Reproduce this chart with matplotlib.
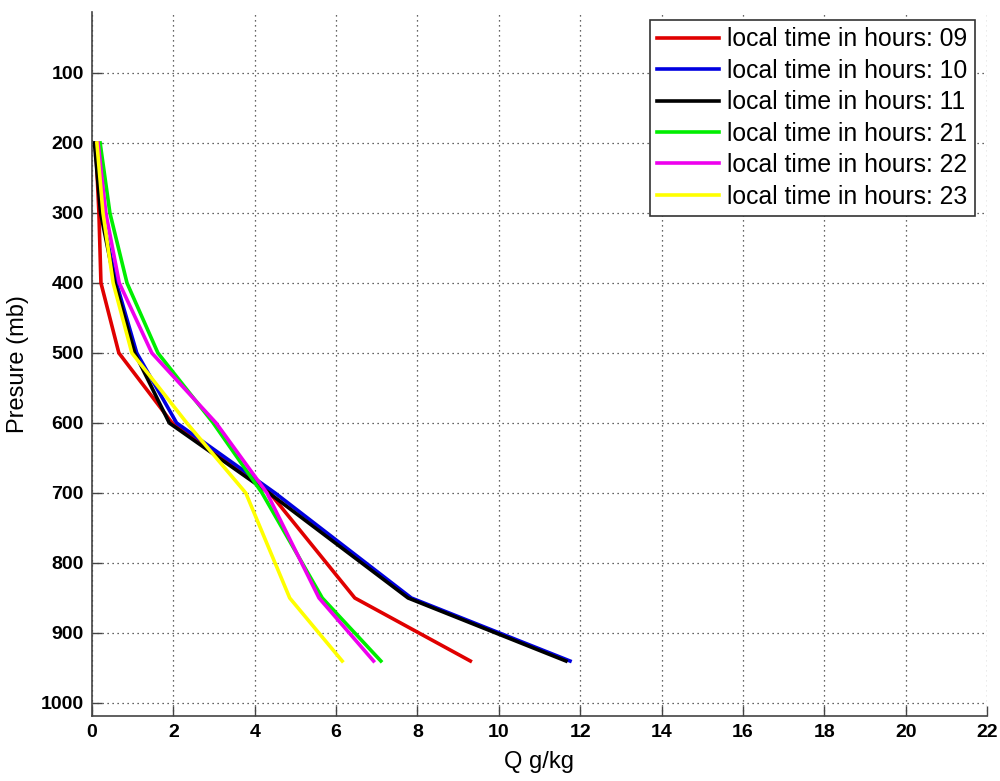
import matplotlib
matplotlib.use("Agg")
import matplotlib.pyplot as plt

plt.rcParams['font.family'] = ['Liberation Sans', 'DejaVu Sans']

# pressure levels (mb) and specific humidity (g/kg) at each local hour
levels = [200, 300, 400, 500, 600, 700, 850, 940]
q_09 = [0.09, 0.17, 0.22, 0.66, 1.97, 4.37, 6.46, 9.30]
q_10 = [0.08, 0.23, 0.60, 1.10, 2.08, 4.50, 7.85, 11.75]
q_11 = [0.06, 0.21, 0.56, 1.05, 1.90, 4.35, 7.77, 11.65]
q_21 = [0.20, 0.44, 0.86, 1.62, 2.98, 4.18, 5.66, 7.10]
q_22 = [0.15, 0.34, 0.67, 1.47, 3.05, 4.30, 5.58, 6.92]
q_23 = [0.12, 0.27, 0.52, 0.98, 2.33, 3.78, 4.86, 6.15]

hours = ['09', '10', '11', '21', '22', '23']
colors = ['#e00000', '#0000e0', 'black', '#00ee00', '#ee00ee', '#ffff00']
series = [q_09, q_10, q_11, q_21, q_22, q_23]

fig = plt.figure(figsize=(10, 7.81), dpi=100)
ax = fig.add_axes([0.092, 0.0832, 0.895, 0.9014])

for q, c, h in zip(series, colors, hours):
    ax.plot(q, levels, color=c, lw=2.6, label='local time in hours: ' + h)

ax.set_xlim(0, 22)
ax.set_ylim(1018.6, 13)
ax.set_xticks(range(0, 23, 2))
ax.set_yticks(range(100, 1001, 100))

ax.grid(True, linestyle=(0, (1, 3)), color='#333333', linewidth=0.9)
ax.tick_params(direction='in', length=7, width=1, color='#444444',
               labelsize=14, pad=6)
for lab in ax.get_xticklabels() + ax.get_yticklabels():
    lab.set_fontweight('bold')

ax.spines['top'].set_visible(False)
ax.spines['right'].set_visible(False)
for s in ('left', 'bottom'):
    ax.spines[s].set_color('#444444')
    ax.spines[s].set_linewidth(1.2)

ax.set_xlabel('Q g/kg', fontsize=17, labelpad=7)
ax.set_ylabel('Presure (mb)', fontsize=17, labelpad=8)

leg = ax.legend(loc='upper right', bbox_to_anchor=(0.9866, 0.9886),
                borderaxespad=0, fontsize=17.8, handlelength=2.5,
                handletextpad=0.33, labelspacing=0.3, borderpad=0.3,
                fancybox=False, framealpha=1)
leg.get_frame().set_edgecolor('#333333')
leg.get_frame().set_linewidth(1.2)

fig.savefig('out.png', dpi=100)
